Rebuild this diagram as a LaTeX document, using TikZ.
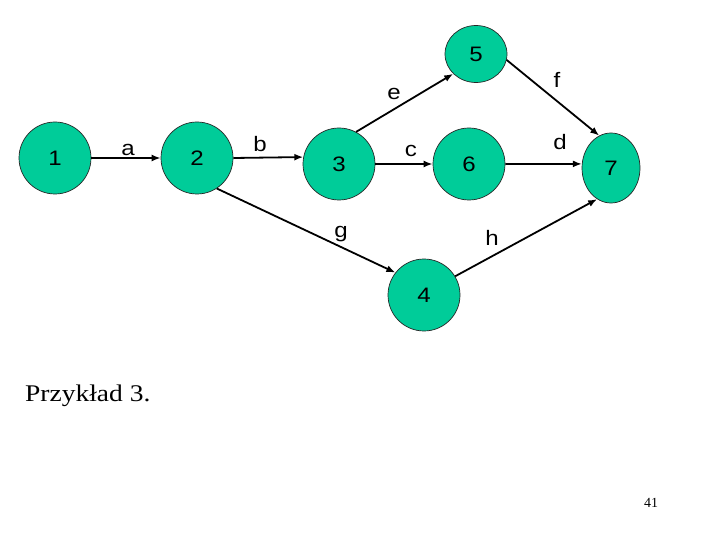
\documentclass[tikz,border=0pt]{standalone}
\usepackage{fontspec}
\setmainfont{Liberation Serif}
\newfontfamily\arial[FakeStretch=1.15]{Liberation Sans}
\newfontfamily\titlefont[FakeStretch=1.15]{Liberation Serif}
\usetikzlibrary{shapes.geometric,arrows.meta}
\definecolor{nodegreen}{RGB}{0,204,153}
\tikzset{
  x=1bp, y=-1bp,
  ev/.style={circle, draw=black!85, line width=0.7pt, fill=nodegreen, minimum size=72bp, inner sep=0pt, font=\arial\fontsize{21}{24}\selectfont},
  evell/.style={ellipse, draw=black!85, line width=0.7pt, fill=nodegreen, inner sep=0pt, font=\arial\fontsize{21}{24}\selectfont},
  act/.style={line width=1.8bp, -{Latex[length=9bp,width=7bp]}},
  lab/.style={anchor=base, inner sep=0pt, font=\arial\fontsize{21}{24}\selectfont},
}
\begin{document}
\begin{tikzpicture}
\useasboundingbox (0,0) rectangle (720,540);
\node[ev] (n1) at (55,158) {1};
\node[ev] (n2) at (197,158) {2};
\node[ev] (n3) at (339,164) {3};
\node[ev] (n6) at (469,164) {6};
\node[evell, minimum width=62bp, minimum height=57bp] (n5) at (476,54) {5};
\node[evell, minimum width=58bp, minimum height=70bp] (n7) at (611,168) {7};
\node[ev] (n4) at (424,295) {4};

\draw[act] (n1.east) -- (n2.west);
\draw[act] (n2.east) -- (n3.169);
\draw[act] (n3.east) -- (n6.west);
\draw[act] (n6.east) -- (n7.172);
\draw[act] (n3.62) -- (n5.221);
\draw[act] (n5.-11) -- (n7.110);
\draw[act] (n2.-57) -- (n4.142);
\draw[act] (n4.31) -- (n7.246);

\node[lab] (la) at (128,156) {a};
\node[lab] (lb) at (260,152) {b};
\node[lab] (lc) at (411,157) {c};
\node[lab] (ld) at (560,150) {d};
\node[lab] (le) at (394,100) {e};
\node[lab] (lf) at (557,88) {f};
\node[lab] (lg) at (341,238) {g};
\node[lab] (lh) at (492,246) {h};

\node[anchor=base west, inner sep=0pt, font=\titlefont\fontsize{24}{28}\selectfont] (title) at (25,401) {Przykład 3.};
\node[anchor=base, inner sep=0pt, font=\fontsize{14}{16}\selectfont] (pg) at (651,507) {41};
\end{tikzpicture}
\end{document}
